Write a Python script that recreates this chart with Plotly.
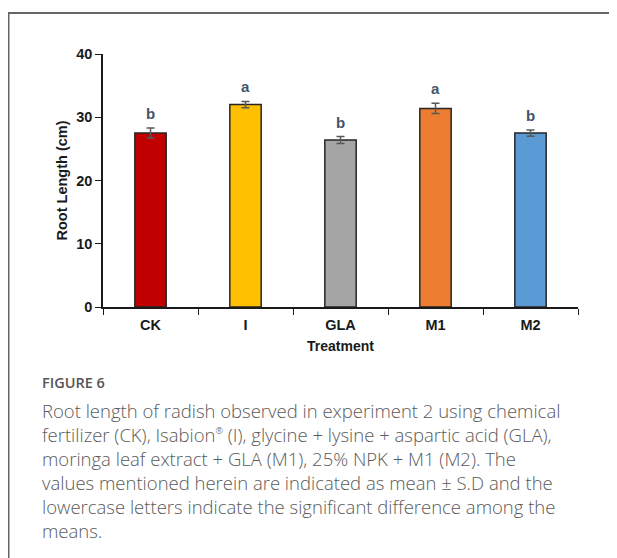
import plotly.graph_objects as go

categories = ["CK", "I", "GLA", "M1", "M2"]
means = [27.5, 32.0, 26.4, 31.4, 27.5]
sd = [0.8, 0.5, 0.55, 0.8, 0.5]
letters = ["b", "a", "b", "a", "b"]
colors = ["#C00000", "#FFC000", "#A5A5A5", "#ED7D31", "#5B9BD5"]
y_ticks = [0, 10, 20, 30, 40]

caption_title = "FIGURE 6"
caption_lines = [
    "Root length of radish observed in experiment 2 using chemical",
    "fertilizer (CK), Isabion<sup><span style='font-size:9px'>®</span></sup> (I), glycine + lysine + aspartic acid (GLA),",
    "moringa leaf extract + GLA (M1), 25% NPK + M1 (M2). The",
    "values mentioned herein are indicated as mean ± S.D and the",
    "lowercase letters indicate the significant difference among the",
    "means.",
]

# page has an 8px body margin; work in page pixels and subtract it
OX, OY = 8, 8
W, H = 617 - OX, 558 - OY
L = 103 - OX
R = W - (578 - OX)
T = 54.3 - OY
B = H - (306.7 - OY)
PW = W - L - R
PH = H - T - B

def px_x(px):
    return (px - OX - L) / PW

def px_y(py):
    return (H - B - (py - OY)) / PH

axis_font = "Liberation Sans, Arial"
cap_font = "Open Sans"

fig = go.Figure()
fig.add_trace(go.Bar(
    x=categories, y=means,
    marker=dict(color=colors, line=dict(color="#262626", width=1.5)),
    error_y=dict(type="data", array=sd, visible=True, color="#595959",
                 thickness=1.5, width=4),
    width=0.33,
))

for c, m, s, lt in zip(categories, means, sd, letters):
    fig.add_annotation(x=c, y=m + s, text=lt, showarrow=False, yanchor="bottom",
                       yshift=4, font=dict(family=axis_font, size=15, color="#44546A", weight="bold"))

fig.add_annotation(xref="paper", yref="paper", x=px_x(40), y=px_y(382),
                   xanchor="left", yanchor="middle", text=caption_title, showarrow=False,
                   font=dict(family=cap_font, size=14.5, color="#555555", weight=600))
fig.add_annotation(xref="paper", yref="paper", x=px_x(40), y=px_y(410 + 2.5 * 23.9),
                   xanchor="left", yanchor="middle", align="left",
                   text="<br>".join(caption_lines), showarrow=False,
                   font=dict(family=cap_font, size=18.5, color="#5a5a5a", weight=300))

fig.add_shape(type="rect", xref="paper", yref="paper",
              x0=px_x(8.5), x1=px_x(700), y0=px_y(13.5), y1=px_y(700),
              line=dict(color="#666666", width=2))

fig.update_layout(
    width=W, height=H,
    margin=dict(l=L, r=R, t=T, b=B, autoexpand=False),
    paper_bgcolor="white", plot_bgcolor="white",
    showlegend=False,
    xaxis=dict(
        title=dict(text="Treatment", font=dict(family=axis_font, size=14, color="#1a1a1a", weight="bold"), standoff=9),
        tickfont=dict(family=axis_font, size=14.5, color="#1a1a1a", weight="bold"),
        ticklabelstandoff=4,
        showline=True, linecolor="#1a1a1a", linewidth=1.5,
        ticks="outside", tickson="boundaries", ticklen=6, tickcolor="#1a1a1a", tickwidth=1,
        showgrid=False, zeroline=False,
    ),
    yaxis=dict(
        title=dict(text="Root Length (cm)", font=dict(family=axis_font, size=14.5, color="#1a1a1a", weight="bold"), standoff=5),
        range=[0, 40], tickvals=y_ticks,
        tickfont=dict(family=axis_font, size=14.5, color="#1a1a1a", weight="bold"),
        showline=True, linecolor="#1a1a1a", linewidth=1.5,
        ticks="outside", ticklen=6, tickcolor="#1a1a1a", tickwidth=1,
        showgrid=False, zeroline=False,
    ),
)

fig.write_html("out.html")
